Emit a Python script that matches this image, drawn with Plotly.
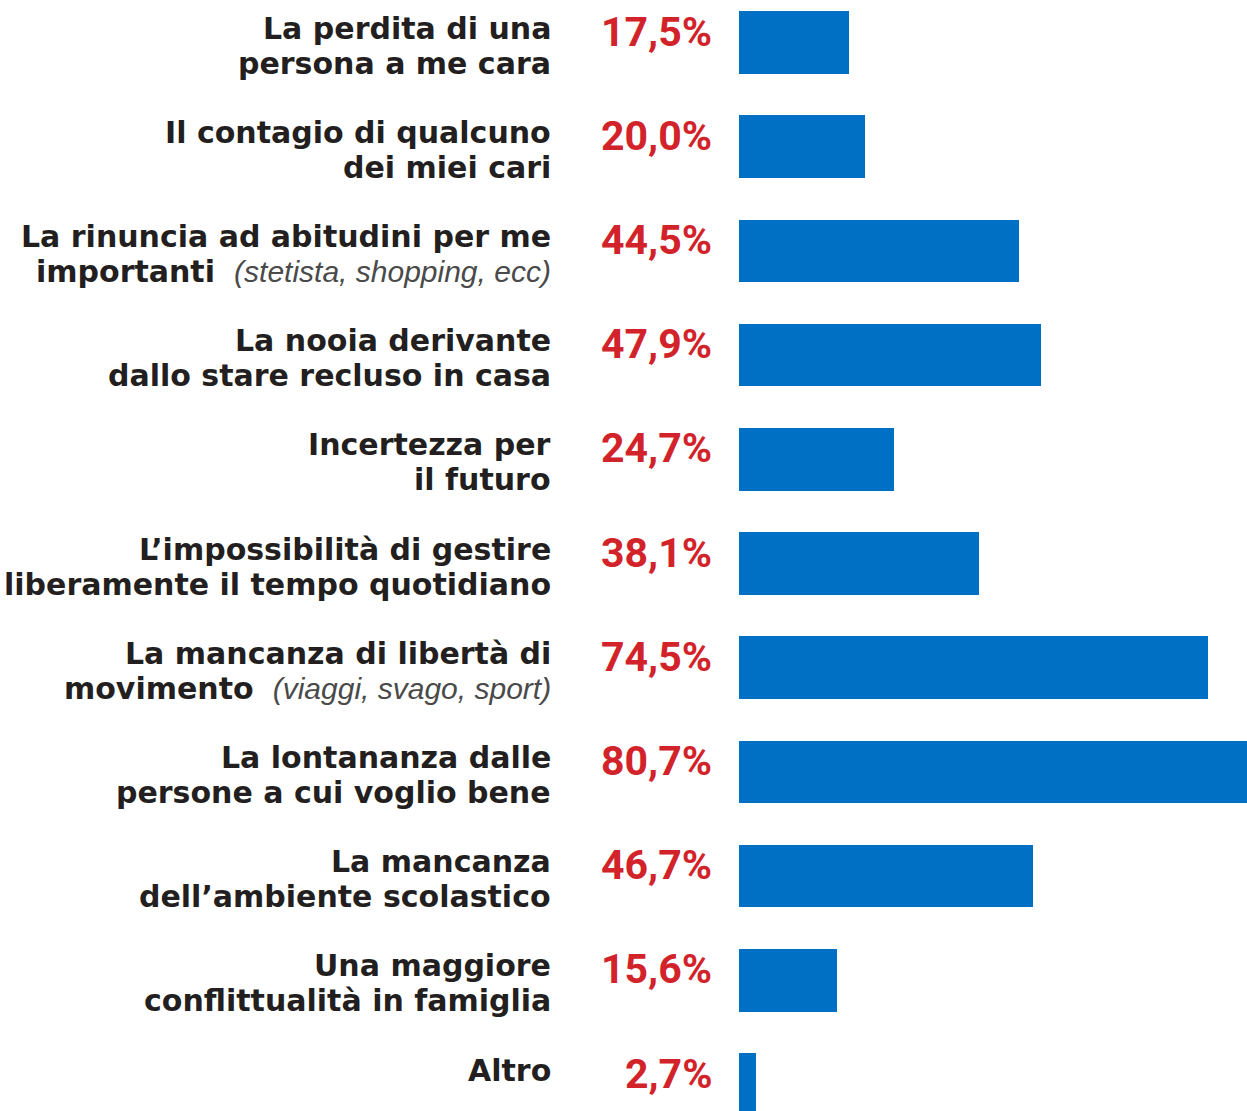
import plotly.graph_objects as go

labels_line1 = [
    "La perdita di una",
    "Il contagio di qualcuno",
    "La rinuncia ad abitudini per me",
    "La nooia derivante",
    "Incertezza per",
    "L’impossibilità di gestire",
    "La mancanza di libertà di",
    "La lontananza dalle",
    "La mancanza",
    "Una maggiore",
    "Altro",
]
labels_line2 = [
    "persona a me cara",
    "dei miei cari",
    "importanti",
    "dallo stare recluso in casa",
    "il futuro",
    "liberamente il tempo quotidiano",
    "movimento",
    "persone a cui voglio bene",
    "dell’ambiente scolastico",
    "conflittualità in famiglia",
    "",
]
labels_note = ["", "", "(stetista, shopping, ecc)", "", "", "", "(viaggi, svago, sport)", "", "", "", ""]
values = [17.5, 20.0, 44.5, 47.9, 24.7, 38.1, 74.5, 80.7, 46.7, 15.6, 2.7]

W, H = 1247, 1111
L = 739
rows = list(range(len(values)))
step = 104.2
y0 = -42.5 / step
y1 = y0 + H / step

BLUE = "#0070C4"
RED = "#D2232A"
DARK = "#231F20"

fig = go.Figure(go.Bar(
    x=values, y=rows, orientation="h",
    marker=dict(color=BLUE, line=dict(width=0)),
    width=0.6, hoverinfo="skip",
))

annotations = []
px_w = W - L
LBL = 30
lab_x = (553 - L) / px_w
for i, (l1, l2, n, v) in enumerate(zip(labels_line1, labels_line2, labels_note, values)):
    annotations.append(dict(
        x=lab_x, xref="paper", y=i, yref="y",
        xanchor="right", yanchor="top", align="right",
        text=f"<b>{l1}</b>", showarrow=False, yshift=34,
        font=dict(family="DejaVu Sans", size=LBL, color=DARK),
    ))
    if l2:
        t2 = f"<b>{l2}</b>"
        if n:
            t2 += f"  <span style='font-family:Liberation Sans;font-weight:normal;color:#4a4a4a'><i>{n}</i></span>"
        annotations.append(dict(
            x=lab_x, xref="paper", y=i, yref="y",
            xanchor="right", yanchor="top", align="right",
            text=t2, showarrow=False, yshift=-1,
            font=dict(family="DejaVu Sans", size=LBL, color=DARK),
        ))
    annotations.append(dict(
        x=(714 - L) / px_w, xref="paper", y=i, yref="y",
        xanchor="right", yanchor="middle", align="right",
        text=f"<b>{v:.1f}%</b>".replace(".", ","), showarrow=False, yshift=11,
        font=dict(family="Roboto", size=41, color=RED),
    ))

fig.update_layout(
    width=W, height=H,
    margin=dict(l=L, r=0, t=0, b=0),
    paper_bgcolor="white", plot_bgcolor="white",
    showlegend=False,
    xaxis=dict(range=[0, 80.7], visible=False, fixedrange=True),
    yaxis=dict(range=[y1, y0], visible=False, fixedrange=True),
    annotations=annotations,
    bargap=0,
)

fig.write_html(
    "out.html",
    config={"displayModeBar": False},
    post_script="document.body.style.margin='0';document.body.style.overflow='hidden';",
)
